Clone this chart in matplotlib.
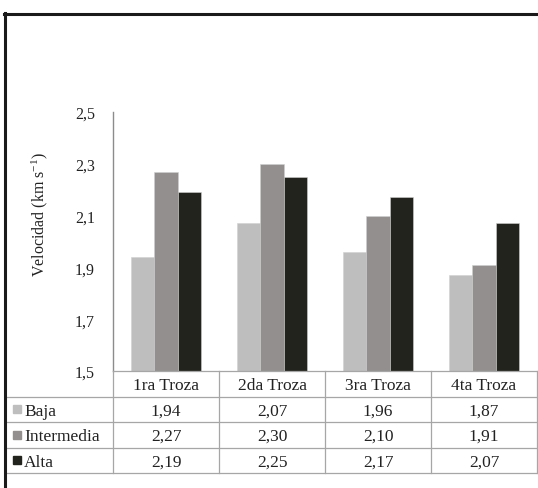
import matplotlib
matplotlib.use("Agg")
import matplotlib.pyplot as plt
from matplotlib.lines import Line2D
from matplotlib.patches import Rectangle

plt.rcParams['font.family'] = ['Liberation Serif', 'DejaVu Serif']
plt.rcParams['mathtext.fontset'] = 'custom'
plt.rcParams['mathtext.rm'] = 'Liberation Serif'
plt.rcParams['mathtext.it'] = 'Liberation Serif:italic'

categories = ["1ra Troza", "2da Troza", "3ra Troza", "4ta Troza"]
series_names = ["Baja", "Intermedia", "Alta"]
baja = [1.94, 2.07, 1.96, 1.87]
intermedia = [2.27, 2.30, 2.10, 1.91]
alta = [2.19, 2.25, 2.17, 2.07]
yticks = [1.5, 1.7, 1.9, 2.1, 2.3, 2.5]

series = [baja, intermedia, alta]
colors = ["#bfbebf", "#928f8e", "#23231d"]
grid_c = "#a6a6a6"
text_c = "#222222"
tab_fs = 12.5

W, H = 538, 489
fig = plt.figure(figsize=(W / 100, H / 100), dpi=100)

def fx(px):
    return px / W

def fy(py):
    return 1 - py / H

# plot area
x0, x1 = 113, 537
y_top, y_bot = 113, 372
ax = fig.add_axes([fx(x0), fy(y_bot), fx(x1 - x0), (y_bot - y_top) / H])
ax.set_xlim(-0.5, len(categories) - 0.5)
ax.set_ylim(1.5, 2.5)
bw = 0.22
for k, (vals, c) in enumerate(zip(series, colors)):
    xs = [i + (k - 1) * bw for i in range(len(categories))]
    ax.bar(xs, [v - 1.5 for v in vals], bottom=1.5, width=bw, color=c,
           edgecolor="#d0d0d0", linewidth=0.4)
for s in ["top", "right", "bottom"]:
    ax.spines[s].set_visible(False)
ax.spines["left"].set_color("#8c8c8c")
ax.spines["left"].set_linewidth(1.0)
ax.set_xticks([])
ax.set_yticks(yticks)
ax.set_yticklabels([f"{t:.1f}".replace(".", ",") for t in yticks])
ax.tick_params(axis="y", length=0, pad=13, labelsize=11.5, labelcolor=text_c)
fig.text(fx(40), fy(215), r"Velocidad (km s$^{\mathregular{-1}}$)",
         rotation=90, ha="center", va="center", fontsize=11.5, color=text_c)

# data table under the plot
t_top, t_bot = 372, 474
tab = fig.add_axes([fx(x0), fy(t_bot), fx(x1 - x0), (t_bot - t_top) / H])
tab.set_xlim(-0.5, len(categories) - 0.5)
tab.set_ylim(4, 0)
tab.axis("off")
unit = (x1 - x0) / len(categories)
x_left = -0.5 - (x0 - 5) / unit

def hline(y, xa, xb):
    tab.add_line(Line2D([xa, xb], [y, y], color=grid_c, lw=0.9, clip_on=False))

def vline(x, ya, yb):
    tab.add_line(Line2D([x, x], [ya, yb], color=grid_c, lw=0.9, clip_on=False))

hline(0, -0.5, 3.5)
for r in range(1, 5):
    hline(r, x_left, 3.5)
for i in range(len(categories) + 1):
    vline(i - 0.5, 0, 4)

row_px = (t_bot - t_top) / 4
for i, cat in enumerate(categories):
    tab.text(i, 0.55, cat, ha="center", va="center", fontsize=tab_fs, color=text_c)
for r, (name, vals, c) in enumerate(zip(series_names, series, colors), start=1):
    sq_w = 8 / unit
    sq_h = 8 / row_px
    tab.add_patch(Rectangle((x_left + 8 / unit, r + 0.5 - sq_h / 2), sq_w, sq_h,
                            color=c, clip_on=False))
    tab.text(x_left + 19 / unit, r + 0.55, name, ha="left", va="center",
             fontsize=tab_fs, color=text_c)
    for i, v in enumerate(vals):
        tab.text(i, r + 0.55, f"{v:.2f}".replace(".", ","), ha="center",
                 va="center", fontsize=tab_fs, color=text_c)

# outer frame (top and left edges)
fig.add_artist(Line2D([fx(4), fx(538)], [fy(15), fy(15)], color="#1a1a1a",
                      lw=2.2, transform=fig.transFigure))
fig.add_artist(Line2D([fx(5.3), fx(5.3)], [fy(14), fy(489)], color="#1a1a1a",
                      lw=2.2, transform=fig.transFigure))

fig.savefig("out.png", dpi=100, facecolor="white")
